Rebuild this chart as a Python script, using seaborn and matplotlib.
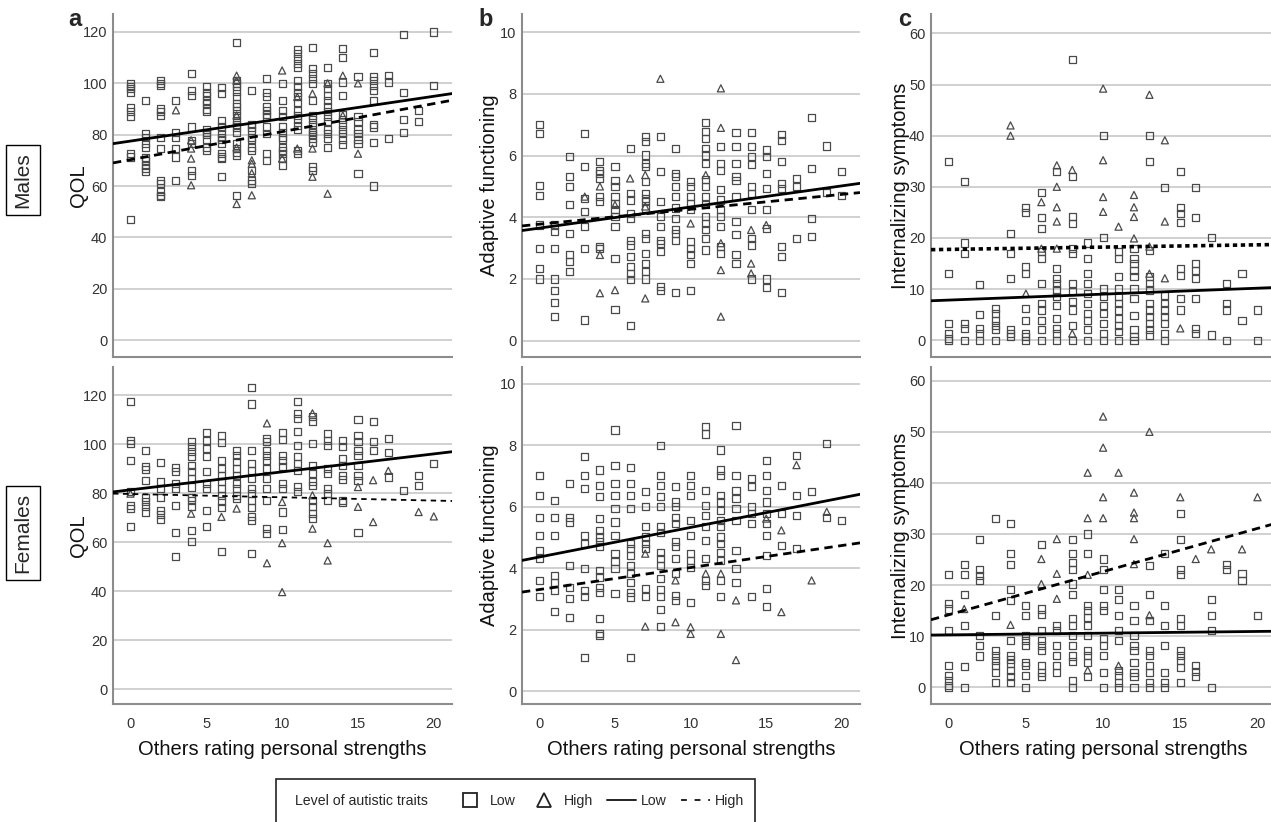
import pandas as pd
import matplotlib
matplotlib.use("Agg")
import matplotlib.pyplot as plt
import seaborn as sns
from matplotlib.lines import Line2D
from matplotlib.patches import Rectangle

# x = others rating personal strengths (0..20); each list holds the y scores at that x
strength_scores = list(range(21))

males_qol_low = [
    [99.9, 98.8, 97.9, 96.6, 90.5, 89.1, 87.2, 72.6, 71.3, 47.1],
    [93.4, 80.4, 79, 76.5, 75, 71, 70, 68, 66.8, 65.5],
    [101, 100, 99, 90, 89, 87.5, 79, 74.6, 62, 61, 57.7, 56.4, 55.8],
    [93.4, 80.7, 79, 74.6, 71.3, 62.3],
    [104, 97.3, 95.3, 83, 77.8, 76.5, 66, 64],
    [98.6, 96.6, 95.3, 93.4, 92, 90, 89, 82, 81, 80, 78, 75, 74],
    [98.3, 96, 85.6, 83, 80.4, 79, 78, 76.5, 72.6, 71.3, 70.7, 63.6],
    [116, 101, 100, 98.6, 97, 94.7, 92, 91, 89.5, 87.5, 85.6, 84, 83, 81, 76.5, 74.6, 73, 72, 56.4],
    [97.3, 84, 83, 81.7, 79, 78, 75, 74, 66, 62.3, 61],
    [102, 96.6, 94.7, 91, 89.5, 88, 87, 83, 80.4, 72.6, 70],
    [100, 93.4, 89.5, 87, 83, 81, 79, 78, 75, 74, 72.6, 70.7, 68],
    [113, 111.5, 109.6, 107.6, 106, 101, 98.6, 96.6, 94.7, 92.7, 89.5, 87.5, 86, 83.7, 82, 74, 72.6],
    [114, 105.7, 103.8, 102, 100, 93.4, 87.5, 86, 84, 82, 81, 80, 78.5, 77, 67.4, 66],
    [106, 100, 97.9, 95.3, 93.4, 91, 89, 87, 85, 82, 80.4, 78.5, 75],
    [113.5, 110, 100.5, 95.3, 88, 86, 84, 82, 80.4, 78, 76],
    [102.5, 87, 85, 82, 80.4, 78, 76.5, 65],
    [112, 102.5, 101, 99, 97.3, 93.4, 84, 83, 77, 60],
    [103, 100.5, 78.5],
    [119, 96.6, 86, 81],
    [89.5, 85],
    [120, 99],
]
males_qol_high = {3: [89.5], 4: [77.8, 74.6, 70.7, 60.3], 7: [103, 101, 87.5, 75, 53],
                  8: [70, 68.7, 65, 56.4], 10: [105, 70.7], 11: [94.7, 74.6],
                  12: [96, 74.6, 63.6], 13: [100, 57], 14: [103, 87.5], 15: [100, 72.6]}

males_adapt_low = [
    [7.0, 6.72, 5.02, 4.72, 3.75, 3.0, 2.35, 2.0],
    [3.75, 3.54, 3.0, 2.0, 1.64, 1.23, 0.78],
    [5.97, 5.32, 5.0, 4.4, 3.48, 2.78, 2.56, 2.24],
    [6.72, 5.64, 4.62, 4.18, 3.7, 3.0, 0.67],
    [5.8, 5.53, 5.43, 5.26, 4.67, 4.5, 3.05, 3.0],
    [5.64, 5.2, 5.0, 4.67, 4.45, 4.24, 4.02, 3.7, 2.67, 1.0],
    [6.24, 4.78, 4.56, 4.13, 3.97, 3.26, 3.1, 2.72, 2.4, 2.18, 1.97, 0.48],
    [6.62, 6.45, 6.02, 5.75, 5.64, 5.16, 4.78, 4.62, 4.5, 4.3, 3.48, 3.32, 2.83, 2.5, 2.24, 2.0],
    [6.62, 5.48, 4.5, 4.02, 3.7, 3.26, 3.16, 2.88, 1.75, 1.64],
    [6.24, 5.43, 5.32, 5.0, 4.67, 4.3, 3.97, 3.59, 3.48, 3.26, 1.56],
    [5.16, 5.0, 4.67, 4.45, 4.24, 3.21, 3.0, 2.78, 2.5, 1.64],
    [7.07, 6.78, 6.56, 6.24, 6.02, 5.75, 5.21, 5.0, 4.67, 4.4, 4.02, 3.8, 3.59, 3.32, 2.94],
    [6.29, 5.75, 5.53, 4.89, 4.56, 4.24, 4.02, 3.7, 3.05, 2.83],
    [6.74, 6.29, 5.75, 5.32, 5.2, 4.67, 3.86, 3.43, 2.78, 2.5],
    [6.74, 6.29, 5.97, 5.7, 5.0, 4.78, 4.24, 3.32, 3.1, 2.0],
    [6.18, 5.97, 5.43, 4.94, 4.24, 3.64, 2.0, 1.73],
    [6.67, 6.5, 5.8, 5.1, 4.94, 3.05, 2.72, 1.56],
    [5.26, 5.0, 3.32],
    [7.23, 5.59, 3.97, 3.37],
    [6.31, 4.8],
    [5.48, 4.72],
]
males_adapt_high = {3: [4.67], 4: [5.0, 2.78, 1.54], 5: [4.4, 1.64], 6: [5.26],
                    7: [5.37, 4.35, 1.37], 8: [8.49], 10: [3.8], 11: [5.37],
                    12: [8.18, 6.9, 3.16, 2.29, 0.78], 14: [3.59, 2.5, 2.18], 15: [3.75]}

males_int_low = [
    [34.9, 13.0, 3.3, 1.3, 0.3, 0],
    [31, 19, 17, 3.3, 2.3, 0],
    [10.8, 5.1, 2.3, 1.3, 0],
    [6.2, 5.2, 3.9, 2.9, 2.0, 0],
    [20.9, 17, 12, 2, 1.3, 0.65],
    [26, 25, 14.4, 13, 6.2, 3.9, 1.3, 0.65, 0],
    [28.8, 24, 21.9, 17.3, 16, 11.1, 7.2, 5.9, 3.9, 2, 0],
    [33, 14, 12, 11.1, 9.8, 8.5, 6.8, 4.2, 2.3, 1.3, 0],
    [54.9, 32, 24.1, 22.8, 18, 17, 11.1, 9.5, 7.5, 5.9, 2.9, 0],
    [19, 16, 13, 11.1, 9.1, 7.2, 5.2, 3.9, 2, 0],
    [40, 20, 10.1, 8.5, 6.8, 5.2, 3.3, 1.3, 0],
    [17.3, 16, 12.4, 10.1, 8.5, 7.2, 5.9, 4.2, 2.9, 1.6, 0],
    [18, 16, 15, 13.7, 12.4, 10.1, 8.2, 4.9, 2, 0.65, 0],
    [40, 34.9, 17.6, 12.4, 11.1, 9.8, 7.2, 5.9, 4.6, 3.3, 2, 1],
    [29.9, 8.8, 7.2, 5.9, 4.6, 3.3, 1.3, 0],
    [33, 26, 24.8, 23, 14, 12.7, 8.2, 5.9],
    [29.9, 24, 15, 13.7, 12, 8.2, 2.3, 1.3],
    [20, 1],
    [11.1, 7.2, 5.9, 0],
    [13, 3.9],
    [5.9, 0],
]
males_int_high = {4: [42, 40], 5: [9.1], 6: [27, 17.9], 7: [34.2, 30, 26, 23.2, 17.9],
                  8: [33.3, 1.3], 10: [49.2, 35.2, 28, 25.1], 11: [22.2],
                  12: [28.4, 26, 24.1, 19.9], 13: [48, 18.3, 13], 14: [39.1, 23.2, 12.1], 15: [2.3]}

females_qol_low = [
    [117.3, 101.6, 100.3, 93.5, 80.5, 75, 73.7, 66.2],
    [97.3, 91, 89.6, 85.3, 78.4, 76.4, 74.6, 72.3],
    [92.4, 84.6, 81.9, 78.4, 73, 71.4, 69.2],
    [90.5, 88.7, 83.9, 81.9, 75, 64.1, 54.3],
    [101, 99.2, 96.9, 94.8, 91.4, 88.7, 85.9, 82.5, 78.4, 77.1, 74.4, 64.8, 60.3],
    [104.6, 101.6, 98.2, 94.8, 88.7, 83.9, 81.9, 73, 66.2],
    [103.7, 100.7, 93.5, 90, 87.3, 84.6, 81.9, 79.1, 76.8, 74.1, 56.3],
    [97.5, 95.5, 92.8, 90, 87.3, 83.9, 81.9, 79.1, 77.8],
    [123.2, 116.4, 97.3, 92.1, 89.4, 85.9, 81.9, 79.8, 77.1, 74.1, 70.3, 68.9, 55.3],
    [102.3, 101, 97.5, 95.5, 93.5, 90, 85.9, 81.9, 77.1, 65.5, 63.4],
    [104.6, 101.9, 95.5, 93.5, 91, 83.9, 81.9, 72.3, 65.1],
    [117.3, 112.6, 110.5, 105, 99.6, 94.8, 92.1, 89.4, 82.8, 80.5],
    [111.2, 109.1, 100.3, 91.4, 88, 84.6, 83.2, 77.1, 74.4, 71.6, 69.6],
    [104.4, 101.6, 99.6, 90, 88, 81.9, 79.8, 77.1],
    [101.6, 98.9, 94.1, 91.4, 87.3, 85.5, 77.1, 76],
    [110.1, 103.7, 101, 97.5, 95.5, 91.4, 87.3, 85.3, 64.1],
    [109.1, 101, 97.5],
    [102.3, 96.5, 86.6],
    [81.2],
    [87.3, 83.2],
    [92.1],
]
females_qol_high = {0: [79.8], 4: [71.6], 6: [70.3], 7: [73.7], 9: [108.5, 51.4],
                    10: [76.4, 59.6, 39.6], 12: [112.6, 79.1, 65.5], 13: [59.6, 52.5],
                    15: [82.5, 74.4], 16: [85.3, 68.2], 17: [89.1], 19: [72.3], 20: [70.5]}

females_adapt_low = [
    [7.03, 6.38, 5.65, 5.08, 4.59, 4.32, 3.61, 3.09],
    [6.2, 5.65, 5.08, 3.77, 3.55, 3.28, 2.61],
    [6.76, 5.65, 5.51, 4.1, 3.39, 3.01, 2.41],
    [7.63, 7.03, 6.6, 5.08, 4.8, 3.99, 3.28, 3.09, 1.11],
    [7.2, 6.7, 6.33, 5.62, 5.24, 5.02, 4.86, 4.7, 3.93, 3.72, 3.39, 3.23, 2.36, 1.87, 1.82],
    [8.5, 7.36, 6.76, 6.38, 5.95, 5.51, 5.08, 4.48, 4.21, 3.99, 3.17],
    [7.28, 6.76, 6.38, 5.95, 4.8, 4.64, 4.42, 4.1, 3.83, 3.55, 3.23, 3.07, 1.11],
    [6.49, 6.02, 5.35, 5.02, 4.8, 4.64, 3.34, 3.09],
    [8.01, 7.03, 6.7, 6.33, 6.02, 5.35, 5.18, 4.53, 4.32, 4.1, 3.66, 3.3, 3.09, 2.65, 2.11],
    [6.67, 6.16, 6.0, 5.67, 5.46, 4.86, 4.7, 4.32, 3.83, 3.12, 2.96],
    [7.03, 6.7, 6.38, 5.57, 5.08, 4.48, 4.26, 4.04, 2.9],
    [8.61, 8.37, 6.54, 6.05, 5.73, 5.35, 4.91, 4.32, 3.61, 3.45],
    [7.85, 7.2, 7.03, 6.38, 6.16, 5.89, 5.57, 5.35, 5.02, 4.8, 4.53, 4.26, 3.61, 3.09],
    [8.66, 7.03, 6.54, 6.27, 5.95, 5.57, 4.59, 3.99, 3.55],
    [6.92, 6.65, 6.0, 5.78, 5.46, 3.09],
    [7.52, 7.03, 6.54, 6.16, 5.78, 5.46, 5.08, 4.42, 3.34, 2.76],
    [6.7, 5.78, 4.75],
    [7.68, 6.38, 5.73, 4.64],
    [6.49],
    [8.07, 5.67],
    [5.57],
]
females_adapt_high = {7: [4.48, 2.11], 9: [3.61, 2.25], 10: [2.09, 1.87], 11: [3.83],
                      12: [3.83, 1.87], 13: [2.96, 1.02], 15: [5.62], 16: [5.24, 2.58],
                      17: [7.36], 18: [3.61], 19: [5.84]}

females_int_low = [
    [22, 16.3, 15.3, 11.1, 4.2, 2.3, 1.3, 0.3, 0],
    [24.1, 22, 18.1, 12.1, 4.1, 0],
    [29, 23.1, 21.8, 20.9, 10.1, 8.1, 6.1],
    [33.1, 14, 7.2, 6.2, 5.2, 4.2, 2.9, 1],
    [32.1, 26.1, 24.1, 19.1, 17, 9.1, 6.2, 5.5, 4.6, 3.3, 2, 0.85],
    [16, 14, 10.1, 9.1, 8.1, 4.9, 4.2, 2.3, 0],
    [28, 15.3, 14.3, 11.1, 9.1, 8.1, 7.2, 4.2, 2.9, 2],
    [12.1, 11.1, 8.1, 6.2, 4.2, 2.9],
    [29, 26.1, 24.4, 23.1, 20.2, 18.1, 13.4, 12.1, 10.1, 8.1, 6.1, 5, 1.3, 0],
    [30, 26.1, 16, 15, 13.7, 12.1, 10.1, 7.2, 6.2, 4.9, 2],
    [25.1, 23.1, 19.1, 16, 15, 9.5, 8.1, 6.2, 2.9, 0],
    [19.1, 17.1, 14, 11.1, 9.1, 3.3, 2.3, 1, 0],
    [16, 13, 10.1, 8.1, 7.2, 4.9, 2.9, 2, 0],
    [23.9, 18.1, 13, 7.2, 6.2, 4.2, 2.9, 1, 0],
    [26.1, 16, 12.1, 8.1, 2.9, 1, 0],
    [34, 29, 23.1, 22, 13.4, 12.1, 7.2, 6.2, 5.2, 3.9, 1],
    [4.2, 3.1, 2],
    [17.1, 14, 11.1, 0],
    [24.1, 23.1],
    [22.2, 20.9],
    [14],
]
females_int_high = {1: [15.3], 4: [12.2], 6: [25.1, 20.2], 7: [29, 22.2, 17.3],
                    9: [42, 33.1, 22, 3.3], 10: [53, 46.9, 37.2, 33.1], 11: [42, 4.2],
                    12: [38.1, 34.2, 33.1, 29, 24.1], 13: [50, 14.1], 15: [37.2],
                    16: [25.1], 17: [27], 19: [27], 20: [37.2]}

# fitted lines, value at the left and right edge of each panel
fit_x = [-1.15, 21.2]
males_qol_fit_low, males_qol_fit_high = [76.5, 96.0], [69.0, 93.4]
males_adapt_fit_low, males_adapt_fit_high = [3.57, 5.1], [3.72, 4.8]
males_int_fit_low, males_int_fit_high = [7.7, 10.3], [17.7, 18.7]
females_qol_fit_low, females_qol_fit_high = [80.5, 96.9], [79.8, 76.8]
females_adapt_fit_low, females_adapt_fit_high = [4.26, 6.41], [3.23, 4.83]
females_int_fit_low, females_int_fit_high = [10.2, 10.95], [13.2, 32.1]


def to_frame(low, high):
    rows = []
    for x, ys in zip(strength_scores, low):
        rows += [(x, y, "Low") for y in ys]
    for x, ys in high.items():
        rows += [(x, y, "High") for y in ys]
    return pd.DataFrame(rows, columns=["strengths", "score", "level"])


sns.set_theme(style="white")
plt.rcParams["font.family"] = ["Liberation Sans", "DejaVu Sans"]

W, H = 1271, 822
fig = plt.figure(figsize=(W / 100, H / 100), dpi=100)

cols = [(113, 339), (522, 338), (931, 345)]
rows_px = [(14, 357), (367, 704)]
label_pads = [-4, 0.5, -1]

panels = [
    # row, col, low, high, fit low, fit high, ylim, yticks, ylabel, high style, high lw
    (0, 0, males_qol_low, males_qol_high, males_qol_fit_low, males_qol_fit_high,
     (-6.6, 127), range(0, 121, 20), "QOL", (0, (3, 2)), 2.0),
    (0, 1, males_adapt_low, males_adapt_high, males_adapt_fit_low, males_adapt_fit_high,
     (-0.53, 10.59), range(0, 11, 2), "Adaptive functioning", (0, (3, 2)), 2.0),
    (0, 2, males_int_low, males_int_high, males_int_fit_low, males_int_fit_high,
     (-3.3, 63.8), range(0, 61, 10), "Internalizing symptoms", (0, (1.2, 1.0)), 2.6),
    (1, 0, females_qol_low, females_qol_high, females_qol_fit_low, females_qol_fit_high,
     (-6.1, 131.5), range(0, 121, 20), "QOL", (0, (3, 2.5)), 1.3),
    (1, 1, females_adapt_low, females_adapt_high, females_adapt_fit_low, females_adapt_fit_high,
     (-0.41, 10.55), range(0, 11, 2), "Adaptive functioning", (0, (3, 2)), 2.0),
    (1, 2, females_int_low, females_int_high, females_int_fit_low, females_int_fit_high,
     (-3.3, 62.7), range(0, 61, 10), "Internalizing symptoms", (0, (3, 2)), 2.0),
]

for r, c, low, high, fit_low, fit_high, ylim, yticks, ylabel, hstyle, hlw in panels:
    left, width = cols[c]
    top, bottom = rows_px[r]
    ax = fig.add_axes([left / W, 1 - bottom / H, width / W, (bottom - top) / H])
    df = to_frame(low, high)
    sns.scatterplot(data=df, x="strengths", y="score", style="level",
                    markers={"Low": "s", "High": "^"}, s=26, color="#4a4a4a",
                    legend=False, ax=ax, zorder=3)
    for coll in ax.collections:
        coll.set_facecolor("none")
        coll.set_edgecolor("#4a4a4a")
        coll.set_linewidth(0.9)
    ax.plot(fit_x, fit_low, color="black", lw=2.0, zorder=4)
    ax.plot(fit_x, fit_high, color="black", lw=hlw, linestyle=hstyle, zorder=4)

    ax.set_xlim(fit_x)
    ax.set_ylim(ylim)
    ax.set_yticks(list(yticks))
    ax.set_xticks([0, 5, 10, 15, 20])
    ax.yaxis.grid(True, color="#cdcdcd", lw=1.3)
    ax.set_axisbelow(True)
    for side in ["top", "right"]:
        ax.spines[side].set_visible(False)
    for side in ["left", "bottom"]:
        ax.spines[side].set_color("#8c8c8c")
        ax.spines[side].set_linewidth(1.5)
    ax.tick_params(axis="y", length=0, labelsize=10.5, labelcolor="#333333", pad=4)
    ax.tick_params(axis="x", length=0, labelsize=10.5, labelcolor="#333333", pad=9)
    ax.set_ylabel(ylabel, fontsize=14.5, labelpad=label_pads[c], color="#111111")
    if r == 0:
        ax.set_xticklabels([])
        ax.set_xlabel("")
    else:
        ax.set_xlabel("Others rating personal strengths", fontsize=14.5,
                      labelpad=7, color="#111111")

# panel letters
for letter, xpx, ypx in [("a", 75, 26), ("b", 486, 26), ("c", 905, 26)]:
    fig.text(xpx / W, 1 - ypx / H, letter, fontsize=17, fontweight="bold",
             ha="center", va="baseline")

# row labels
box = dict(boxstyle="square,pad=0.35", fc="white", ec="black", lw=1.0)
fig.text(23 / W, 1 - 180 / H, "Males", rotation=90, fontsize=15,
         ha="center", va="center", bbox=box)
fig.text(23 / W, 1 - 533 / H, "Females", rotation=90, fontsize=15,
         ha="center", va="center", bbox=box)

# legend box
fig.patches.append(Rectangle((276 / W, 1 - 835 / H), 479 / W, 56 / H,
                             transform=fig.transFigure, fill=False,
                             ec="#222222", lw=1.2))
fig.text(295 / W, 1 - 801 / H, "Level of autistic traits", fontsize=10.2,
         ha="left", va="center")
handles = [
    Line2D([], [], marker="s", linestyle="none", markersize=10.5,
           markerfacecolor="none", markeredgecolor="#222222", markeredgewidth=1.3),
    Line2D([], [], marker="^", linestyle="none", markersize=10.5,
           markerfacecolor="none", markeredgecolor="#222222", markeredgewidth=1.3),
    Line2D([], [], color="#222222", lw=1.4),
    Line2D([], [], color="#222222", lw=1.4, linestyle=(0, (3, 4))),
]
fig.legend(handles, ["Low", "High", "Low", "High"], loc="center left",
           bbox_to_anchor=(443 / W, 1 - 801 / H), ncol=4, frameon=False,
           fontsize=10.2, handlelength=2.0, handletextpad=0.4, columnspacing=1.0)

fig.savefig("out.png", dpi=100)
